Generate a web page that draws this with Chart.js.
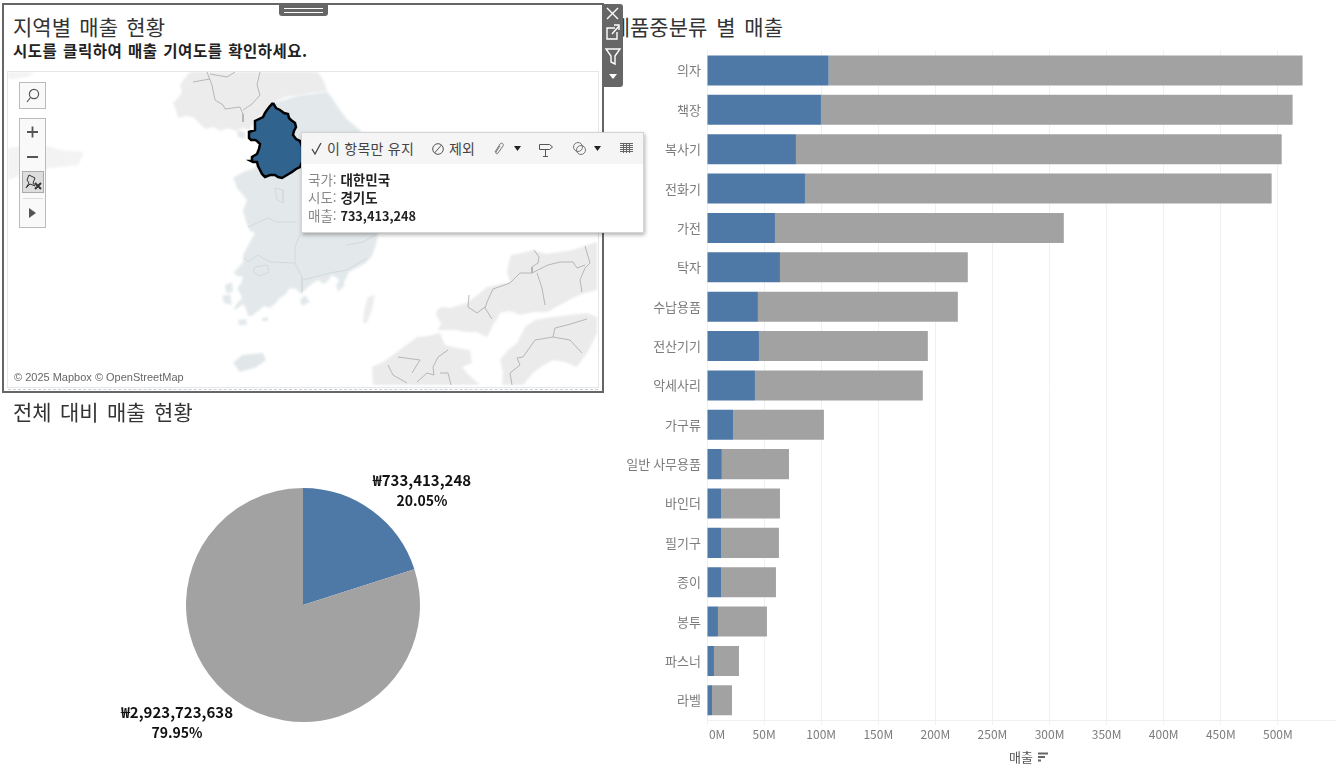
<!DOCTYPE html>
<html lang="ko">
<head>
<meta charset="utf-8">
<title>지역별 매출 현황</title>
<script src="https://cdn.jsdelivr.net/npm/chart.js@4/dist/chart.umd.min.js"></script>
<style>
html, body { margin: 0; padding: 0; background: #fff; }
body { width: 1337px; height: 777px; position: relative; overflow: hidden; font-family: "Noto Sans CJK KR", "Noto Sans", sans-serif; color: #333; }
.abs, canvas { position: absolute; }
.title { font-size: 21px; line-height: 28px; white-space: nowrap; word-spacing: 2.5px; color: #333; }
#panel { left: 2px; top: 3px; width: 598px; height: 386px; border: 2px solid #666; }
#mapBox { left: 7px; top: 71px; width: 590px; height: 315px; border: 1px solid #e6e6e6; }
#dotted { left: 8px; top: 389px; width: 590px; height: 0; border-top: 1px dashed #c5cedb; }
#handle { left: 279px; top: 4px; width: 49px; height: 12px; background: #666; border-radius: 0 0 3px 3px; }
#handle div { position: absolute; left: 5px; width: 39px; height: 1px; background: #fff; }
#toolbar { left: 603px; top: 4px; width: 20px; height: 83px; background: #666; border-radius: 0 3px 3px 0; z-index: 5; }
.ctl { background: #f9f9f9; border: 1px solid #bbb; box-sizing: border-box; }
#tip { left: 301px; top: 132px; width: 343px; height: 101px; background: #fff; box-sizing: border-box; border: 1px solid #d4d4d4; box-shadow: 1px 2px 4px rgba(0,0,0,.3); z-index: 4; font-size: 13.5px; }
#tipHead { left: 0; top: 0; width: 341px; height: 31px; background: #f5f5f5; color: #444; font-size: 14px; }
.tipLine { left: 6px; white-space: nowrap; line-height: 18px; color: #888; }
.tipLine b { color: #222; font-weight: 700; }
#attr { left: 10px; top: 369px; width: 181px; height: 17px; background: rgba(255,255,255,.7); font: 11px/17px "Liberation Sans", sans-serif; color: #666; padding-left: 4px; box-sizing: border-box; }
.pieLabel { text-align: center; font-weight: 700; font-size: 15px; line-height: 20px; color: #111; width: 180px; }
.pieLabel span { font-size: 14px; }
</style>
</head>
<body>
<div class="abs" id="panel"></div>
<div class="abs title" style="left:13px;top:12px">지역별 매출 현황</div>
<div class="abs" id="subtitle" style="left:13px;top:39px;font-size:15.5px;letter-spacing:.5px;word-spacing:1px;line-height:22px;font-weight:700;color:#222;white-space:nowrap">시도를 클릭하여 매출 기여도를 확인하세요.</div>
<div class="abs" id="mapBox"></div>
<canvas id="mapChart" width="590" height="315" style="left:8px;top:72px"></canvas>
<div class="abs" id="dotted"></div>
<div class="abs" id="attr">© 2025 Mapbox © OpenStreetMap</div>

<div class="abs ctl" style="left:19px;top:82px;width:27px;height:27px">
  <svg width="25" height="25" viewBox="0 0 25 25" fill="none" stroke="#555" stroke-width="1.2"><circle cx="14" cy="11" r="4.6"/><path d="M10.5 14.5L7 19"/></svg>
</div>
<div class="abs ctl" style="left:19px;top:118px;width:27px;height:110px">
  <svg width="25" height="108" viewBox="0 0 25 108" fill="none" stroke="#555" stroke-width="1.8">
    <path d="M7 13h11M12.500 7.500v11M7 38h11"/>
    <rect x="2.500" y="52.500" width="21" height="21" fill="#ddd" stroke="#aaa" stroke-width="1"/>
    <path d="M9 56l6 3-2 5 2 3-5-2-4 4 3-5-2-3z" stroke-width="1" stroke="#333"/>
    <path d="M15 64l6 6M21 64l-6 6" stroke="#333" stroke-width="2"/>
    <path d="M3 79.500h20" stroke="#ddd" stroke-width="1"/>
    <path d="M9 89l7 5-7 5z" fill="#555" stroke="none"/>
  </svg>
</div>

<div class="abs" id="handle"><div style="top:4px"></div><div style="top:8px"></div></div>
<div class="abs" id="toolbar">
  <svg width="20" height="83" viewBox="0 0 20 83" fill="none" stroke="#fff" stroke-width="1.4">
    <path d="M4 4l11 11M15 4L4 15"/>
    <path d="M12 24H4v11h10v-7M9 30l7-8M11 21h5v5"/>
    <path d="M3 45h14l-5 7v8l-4-2v-6z"/>
    <path d="M6 70h8l-4 5z" fill="#fff" stroke="none"/>
  </svg>
</div>

<div class="abs" id="tip">
  <div class="abs" id="tipHead">
    <svg class="abs" style="left:8px;top:8px" width="14" height="15" viewBox="0 0 14 15" fill="none" stroke="#444" stroke-width="1.3"><path d="M2 8l3 5 6-11"/></svg>
    <span class="abs" style="left:25px;top:6px;white-space:nowrap;line-height:19px;letter-spacing:.25px">이 항목만 유지</span>
    <svg class="abs" style="left:129px;top:9px" width="14" height="14" viewBox="0 0 14 14" fill="none" stroke="#555"><circle cx="7" cy="7" r="5.300"/><path d="M3.500 11L10.500 3"/></svg>
    <span class="abs" style="left:147px;top:6px;white-space:nowrap;line-height:19px">제외</span>
    <svg class="abs" style="left:189px;top:8px" width="14" height="15" viewBox="0 0 14 15" fill="none" stroke="#777"><path d="M4 11l5-8c2-2 4 0 3 2l-5 7c-1 1-3 1-2-1l4-6"/></svg>
    <svg class="abs" style="left:211px;top:13px" width="9" height="6"><path d="M1 0h7l-3.500 5z" fill="#222"/></svg>
    <svg class="abs" style="left:236px;top:8px" width="16" height="17" viewBox="0 0 16 17" fill="none" stroke="#555"><path d="M1.500 3.500h10l3 2.500-3 2.500h-10zM7.500 8.500v7M5 15.500h5"/></svg>
    <svg class="abs" style="left:270px;top:8px" width="15" height="15" viewBox="0 0 15 15" fill="none" stroke="#777"><circle cx="6" cy="6" r="4.500"/><circle cx="9" cy="9" r="4.500"/></svg>
    <svg class="abs" style="left:291px;top:13px" width="9" height="6"><path d="M1 0h7l-3.500 5z" fill="#222"/></svg>
    <svg class="abs" style="left:318px;top:10px" width="13" height="11" viewBox="0 0 13 11" stroke="#666"><path d="M0 .5h13M0 2.500h13M0 4.500h13M0 6.500h13M0 8.500h13M3.500 0v10M6.500 0v10M9.500 0v10"/></svg>
  </div>
  <div class="abs tipLine" style="top:37px">국가: <b>대한민국</b></div>
  <div class="abs tipLine" style="top:55px">시도: <b>경기도</b></div>
  <div class="abs tipLine" style="top:73px">매출: <b id="tipSales" style="font-size:12.7px"></b></div>
</div>

<div class="abs title" style="left:13px;top:397px">전체 대비 매출 현황</div>
<canvas id="pieChart" width="236" height="236" style="left:185px;top:487px"></canvas>
<div class="abs pieLabel" id="pieLabelA" style="left:332px;top:470px"></div>
<div class="abs pieLabel" id="pieLabelB" style="left:87px;top:702px"></div>

<div class="abs title" style="right:554px;top:12px;word-spacing:3px">제품중분류 별 매출</div>
<canvas id="barChart" width="722" height="737" style="left:615px;top:40px"></canvas>
<svg class="abs" style="left:1037px;top:752px" width="12" height="10" stroke="#666" stroke-width="2"><path d="M1 1.500h10M1 5h7M1 8.500h3"/></svg>

<script>
var categories = ['의자', '책장', '복사기', '전화기', '가전', '탁자', '수납용품', '전산기기', '악세사리', '가구류', '일반 사무용품', '바인더', '필기구', '종이', '봉투', '파스너', '라벨'];
// 선택한 시도(경기도) 매출, 단위 M
var selectedSales = [106.5, 99.8, 77.9, 85.8, 59.5, 63.9, 44.6, 45.5, 42, 22.8, 13, 12.3, 12.3, 12.3, 9.6, 6.1, 4.4];
// 나머지 지역 매출, 단위 M
var otherSales = [415.1, 413.1, 425.4, 408.7, 253, 164.5, 175.1, 147.9, 147, 79.6, 58.8, 51.6, 50.7, 48.1, 42.9, 21.9, 17.5];
var pieLabels = ['경기도', '기타'];
var pieValues = [733413248, 2923723638];

// 지도 외곽선, 단위는 지도 좌표
var gyeonggi = [[273,103],[276,108],[280,110],[284,113],[288,114],[289,118],[291,120],[295,123],[296,127],[294,131],[293,135],[296,139],[300,141],[302,146],[303,152],[303,160],[300,167],[296,169],[292,172],[287,175],[282,178],[278,177],[275,175],[270,175],[265,177],[262,174],[260,170],[258,166],[257,162],[253,162],[251,161],[252,157],[257,154],[259,149],[260,144],[257,141],[255,140],[251,140],[249,138],[249,132],[255,130],[255,125],[255,121],[259,119],[263,117],[265,113],[267,110],[270,106]];
var seoul = [[270,135],[274,137],[275,141],[277,144],[275,148],[272,150],[268,149],[265,148],[262,145],[265,141],[268,140]];
var southKorea = [[273,103],[300,95],[327,92],[330,95],[334,101],[340,110],[347,119],[354,125],[360,130],[368,150],[374,175],[378,200],[380,218],[378,233],[376,245],[372,256],[366,263],[357,268],[349,272],[346,279],[341,284],[337,278],[332,275],[328,281],[323,284],[318,280],[313,283],[307,288],[301,294],[296,289],[290,288],[286,294],[280,298],[276,303],[270,308],[264,306],[258,311],[252,316],[248,316],[246,309],[243,304],[238,308],[233,310],[237,303],[242,298],[240,293],[237,289],[241,283],[243,277],[238,276],[233,273],[238,268],[243,262],[243,255],[246,249],[251,240],[255,233],[250,231],[248,227],[245,219],[243,210],[245,205],[247,200],[242,194],[237,188],[235,182],[233,178],[238,175],[243,172],[255,168]];
var northKorea = [[190,72],[318,72],[322,78],[325,84],[327,92],[312,93],[300,95],[286,97],[273,103],[255,121],[249,130],[243,128],[236,131],[228,128],[220,131],[214,127],[205,129],[198,122],[193,117],[186,116],[178,118],[176,110],[173,103],[178,98],[182,92],[180,85],[185,78]];
var shandong = [[8,148],[40,144],[60,150],[84,152],[78,165],[50,168],[30,172],[8,180]];
var liaodong = [[8,72],[34,72],[28,77],[12,79],[8,78]];
var ganghwa = [[237,130],[245,132],[245,139],[238,137]];
var islandsA = [[225,285],[232,282],[233,292],[226,293]];
var islandsB = [[222,296],[230,294],[232,305],[224,303]];
var islandsC = [[238,320],[246,319],[247,325],[239,325]];
var islandsD = [[262,318],[268,317],[268,321],[262,321]];
var geoje = [[336,285],[342,278],[345,285],[338,292]];
var namhae = [[300,300],[305,295],[310,302],[302,306]];
var jeju = [[233,363],[242,355],[263,353],[266,360],[257,367],[240,372]];
var tsushima = [[368,297],[375,295],[372,310],[367,323],[363,323],[364,310]];
var honshu = [[436,315],[437,310],[441,307],[450,308],[460,305],[467,303],[472,299],[480,293],[487,287],[497,285],[510,282],[507,272],[509,262],[511,255],[522,253],[533,250],[546,254],[560,252],[573,250],[587,245],[597,242],[597,290],[585,293],[573,298],[560,305],[547,312],[534,312],[520,315],[510,311],[500,313],[497,319],[493,325],[490,332],[487,337],[477,332],[467,332],[455,330],[438,330],[441,323]];
var shikoku = [[525,327],[535,320],[553,317],[570,315],[587,313],[597,317],[597,333],[589,350],[577,367],[565,362],[553,360],[542,366],[533,373],[523,385],[502,385],[503,372],[500,360],[508,350],[517,343]];
var kyushu = [[440,333],[445,345],[458,348],[470,350],[472,363],[462,367],[470,376],[480,385],[373,385],[372,367],[383,362],[393,355],[405,346],[417,337],[428,336]];
var selectedAreas = [
    { points: gyeonggi, fill: '#30648f' },
    { points: seoul, fill: '#dfe6e9' }
];
var landAreas = [
    { points: ganghwa, fill: '#e3e9eb' },
    { points: islandsA, fill: '#e3e9eb' },
    { points: islandsB, fill: '#e3e9eb' },
    { points: islandsC, fill: '#e3e9eb' },
    { points: islandsD, fill: '#e3e9eb' },
    { points: geoje, fill: '#e3e9eb' },
    { points: namhae, fill: '#e3e9eb' },
    { points: jeju, fill: '#e1e7e9' },
    { points: southKorea, fill: '#e3e9eb' },
    { points: northKorea, fill: '#ececec' },
    { points: shandong, fill: '#f3f3f3' },
    { points: liaodong, fill: '#f3f3f3' },
    { points: tsushima, fill: '#ededed' },
    { points: honshu, fill: '#ebebeb' },
    { points: shikoku, fill: '#ebebeb' },
    { points: kyushu, fill: '#ebebeb' }
];
var provinceLines = [
    [[248,227],[268,218],[277,222],[297,222]],
    [[245,258],[248,262],[258,255],[270,262],[295,263]],
    [[295,263],[295,247],[300,235]],
    [[295,263],[302,277],[302,292]],
    [[303,280],[330,273],[347,270],[367,258]],
    [[347,245],[363,242],[375,235]],
    [[255,267],[267,265],[269,272],[260,276],[253,272],[255,267]],
    [[275,188],[283,190],[283,203],[277,200],[275,188]]
];
var borderLines = [
    [[207,72],[212,85],[215,100],[223,105],[225,109],[240,107],[243,114],[243,122]],
    [[260,72],[257,85],[260,95],[252,104],[243,110]],
    [[193,82],[210,79]],
    [[210,74],[227,77],[235,72]],
    [[585,246],[590,263],[585,268],[580,280],[582,292]],
    [[534,250],[539,257],[538,263],[532,267],[532,273],[520,273],[510,283],[493,289],[487,302],[485,308],[492,319]],
    [[532,273],[548,265],[560,262],[573,262],[577,268],[585,265]],
    [[537,273],[542,288],[545,305]],
    [[469,295],[468,307],[477,313],[485,307]],
    [[587,319],[567,325],[555,328],[553,337],[535,340],[523,357],[517,358],[520,365],[510,373],[512,385]],
    [[553,337],[570,340],[582,353]],
    [[448,350],[438,357],[433,367],[434,375],[427,373],[417,382]],
    [[398,357],[420,360],[412,373]],
    [[388,365],[393,375],[407,383]],
    [[440,373],[448,373],[451,385]]
];

var fontFamily = '"Noto Sans CJK KR", "Noto Sans", sans-serif';
var blue = '#4e79a7';
var gray = '#a2a2a2';

function mapDataset(list, lineColor, lineWidth, fillColor, soft) {
    return {
        data: list.map(function(p) { return { x: p[0], y: p[1] }; }),
        showLine: true,
        borderColor: lineColor,
        borderWidth: lineWidth,
        pointRadius: 0,
        areaFill: fillColor,
        softEdge: soft
    };
}

// scatter 데이터셋을 다각형으로 채우는 플러그인
var areaFillPlugin = {
    id: 'areaFill',
    beforeDatasetDraw: function(chart, args) {
        var ds = chart.data.datasets[args.index];
        if (!ds.areaFill) return;
        var ctx = chart.ctx;
        ctx.save();
        if (ds.softEdge) ctx.filter = 'blur(0.8px)';
        ctx.beginPath();
        args.meta.data.forEach(function(pt, i) {
            if (i === 0) ctx.moveTo(pt.x, pt.y); else ctx.lineTo(pt.x, pt.y);
        });
        ctx.closePath();
        ctx.fillStyle = ds.areaFill;
        ctx.fill();
        ctx.restore();
    }
};

var mapDatasets = [];
selectedAreas.forEach(function(a) {
    mapDatasets.push(mapDataset(a.points.concat([a.points[0]]), '#000', 2.5, a.fill));
});
borderLines.forEach(function(l) { mapDatasets.push(mapDataset(l, '#a8a8a8', 0.8)); });
provinceLines.forEach(function(l) { mapDatasets.push(mapDataset(l, '#d3dadc', 1)); });
landAreas.forEach(function(a) {
    mapDatasets.push(mapDataset(a.points, 'rgba(0,0,0,0)', 0, a.fill, true));
});

new Chart(document.getElementById('mapChart'), {
    type: 'scatter',
    data: { datasets: mapDatasets },
    plugins: [areaFillPlugin],
    options: {
        responsive: false,
        animation: false,
        layout: { padding: 0 },
        plugins: { legend: { display: false }, tooltip: { enabled: false } },
        scales: {
            x: { display: false, min: 8, max: 598 },
            y: { display: false, min: 72, max: 387, reverse: true }
        }
    }
});

new Chart(document.getElementById('pieChart'), {
    type: 'pie',
    data: {
        labels: pieLabels,
        datasets: [{
            data: pieValues,
            backgroundColor: [blue, gray],
            borderWidth: 0
        }]
    },
    options: {
        responsive: false,
        animation: false,
        layout: { padding: 1 },
        plugins: { legend: { display: false }, tooltip: { enabled: false } }
    }
});

new Chart(document.getElementById('barChart'), {
    type: 'bar',
    data: {
        labels: categories,
        datasets: [
            { data: selectedSales, backgroundColor: blue, stack: 's' },
            { data: otherSales, backgroundColor: gray, stack: 's' }
        ]
    },
    options: {
        indexAxis: 'y',
        responsive: false,
        animation: false,
        barPercentage: 0.763,
        categoryPercentage: 1,
        layout: { padding: { top: 10.8, right: 1.6, bottom: 0, left: 0 } },
        plugins: { legend: { display: false }, tooltip: { enabled: false } },
        scales: {
            x: {
                stacked: true,
                min: 0,
                max: 550,
                afterFit: function(scale) { scale.height = 57; },
                ticks: {
                    stepSize: 50,
                    maxRotation: 0,
                    autoSkip: false,
                    padding: 2,
                    color: '#7c7c7c',
                    font: { family: fontFamily, size: 12 },
                    callback: function(v) {
                        if (v > 500) return '';
                        // 0M 라벨은 축 안쪽으로 밀어서 표시
                        return v === 0 ? '\u00a0\u00a0\u00a0\u00a0\u00a0\u00a00M' : v + 'M';
                    }
                },
                grid: {
                    tickLength: 5,
                    color: function(c) { return c.tick && c.tick.value > 500 ? 'rgba(0,0,0,0)' : '#f0f0f0'; }
                },
                border: { color: '#efefef' },
                title: {
                    display: true,
                    text: '매출',
                    color: '#555',
                    font: { family: fontFamily, size: 13 },
                    padding: { top: 4, bottom: 12 }
                }
            },
            y: {
                stacked: true,
                afterFit: function(scale) {
                    scale.width = 92;
                    // 라벨 높이 때문에 생기는 위쪽 여백 제거
                    scale.paddingTop = 0;
                    scale.paddingBottom = 0;
                },
                ticks: {
                    padding: 6,
                    color: '#7c7c7c',
                    font: { family: fontFamily, size: 13 }
                },
                grid: { display: false, drawTicks: false },
                border: { color: '#efefef' }
            }
        }
    }
});

var pieTotal = pieValues[0] + pieValues[1];
function pieText(v) {
    return '₩' + v.toLocaleString('en-US') + '<br><span>' + (v / pieTotal * 100).toFixed(2) + '%</span>';
}
document.getElementById('pieLabelA').innerHTML = pieText(pieValues[0]);
document.getElementById('pieLabelB').innerHTML = pieText(pieValues[1]);
document.getElementById('tipSales').textContent = pieValues[0].toLocaleString('en-US');
</script>
</body>
</html>
